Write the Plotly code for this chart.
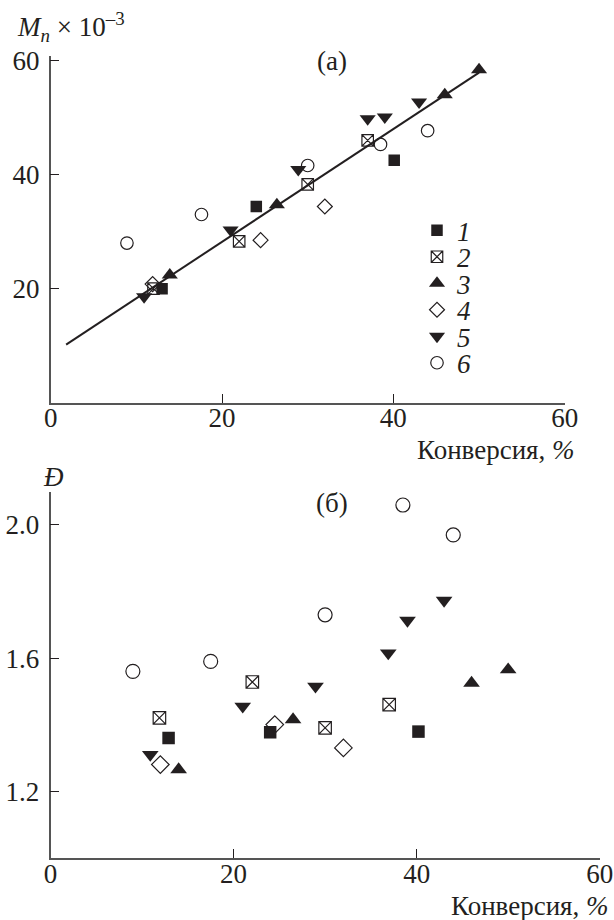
import plotly.graph_objects as go

# ---------------- data ----------------
series_names = ["1", "2", "3", "4", "5", "6"]

# panel (a): Mn x 10^-3 vs conversion
a_x1 = [13.0, 24.0, 40.1]
a_y1 = [20.0, 34.4, 42.5]
a_x2 = [12.0, 22.0, 30.0, 37.0]
a_y2 = [20.0, 28.3, 38.3, 46.0]
a_x3 = [13.9, 26.4, 46.0, 50.0]
a_y3 = [22.4, 34.7, 54.0, 58.4]
a_x4 = [11.9, 24.5, 32.0]
a_y4 = [20.8, 28.5, 34.4]
a_x5 = [10.9, 21.0, 28.9, 37.0, 39.0, 43.0]
a_y5 = [18.6, 30.3, 40.9, 49.8, 50.1, 52.75]
a_x6 = [8.9, 17.6, 30.0, 38.5, 44.0]
a_y6 = [28.0, 33.0, 41.6, 45.3, 47.7]
fit_x = [1.8, 50.0]
fit_y = [10.2, 57.9]

# panel (б): dispersity vs conversion
b_x1 = [12.9, 24.0, 40.2]
b_y1 = [1.36, 1.377, 1.379]
b_x2 = [11.9, 22.05, 30.0, 37.0]
b_y2 = [1.42, 1.528, 1.39, 1.46]
b_x3 = [14.0, 26.5, 46.0, 50.0]
b_y3 = [1.265, 1.415, 1.525, 1.565]
b_x4 = [12.0, 24.5, 32.0]
b_y4 = [1.28, 1.40, 1.33]
b_x5 = [10.9, 21.0, 28.95, 36.9, 39.0, 43.0]
b_y5 = [1.31, 1.455, 1.515, 1.615, 1.713, 1.773]
b_x6 = [9.0, 17.5, 30.0, 38.5, 44.0]
b_y6 = [1.56, 1.59, 1.73, 2.06, 1.97]

x_ticks = [0, 20, 40, 60]
a_y_ticks = [20, 40, 60]
b_y_ticks = [1.2, 1.6, 2.0]
b_y_ticklabels = ["1.2", "1.6", "2.0"]

# ---------------- styles ----------------
FONT = "Liberation Serif, Times New Roman, Times, serif"
FS = 27
INK = "#231f20"
AX = "#555555"
symbols = ["square", "square-x-open", "triangle-up", "diamond-open", "triangle-down", "circle-open"]
a_sizes = [11.5, 11.5, 14, 11.5, 14, 12.5]
b_sizes = [12.5, 12.5, 14.5, 13.5, 14.5, 14]

def mstyle(sym, size):
    d = dict(symbol=sym, size=size, color=INK)
    if sym.endswith("open"):
        d["line"] = dict(width=1.2, color=INK)
    return d

W, H = 614, 920
def px(x):
    return x / W
def py(y):
    return 1 - y / H

fig = go.Figure()

fig.add_trace(go.Scatter(x=fit_x, y=fit_y, mode="lines",
                         line=dict(color=INK, width=2), showlegend=False,
                         xaxis="x", yaxis="y", hoverinfo="skip"))

a_data = [(a_x1, a_y1), (a_x2, a_y2), (a_x3, a_y3), (a_x4, a_y4), (a_x5, a_y5), (a_x6, a_y6)]
b_data = [(b_x1, b_y1), (b_x2, b_y2), (b_x3, b_y3), (b_x4, b_y4), (b_x5, b_y5), (b_x6, b_y6)]

legend_ids = ["legend", "legend2", "legend3", "legend4", "legend5", "legend6"]
for name, (xs, ys), sym, sz, lg in zip(series_names, a_data, symbols, a_sizes, legend_ids):
    fig.add_trace(go.Scatter(x=xs, y=ys, mode="markers", name="<i>" + name + "</i>",
                             marker=mstyle(sym, sz), xaxis="x", yaxis="y",
                             showlegend=True, legend=lg))
for name, (xs, ys), sym, sz in zip(series_names, b_data, symbols, b_sizes):
    fig.add_trace(go.Scatter(x=xs, y=ys, mode="markers", name=name,
                             marker=mstyle(sym, sz), xaxis="x2", yaxis="y2", showlegend=False))

axis_common = dict(
    showline=True, linecolor=AX, linewidth=1.5, mirror=False,
    showgrid=False, zeroline=False, automargin=False,
    ticks="inside", ticklen=9, tickwidth=1.3, tickcolor=INK,
    tickfont=dict(family=FONT, size=FS, color=INK),
)

layout = dict(
    width=W, height=H,
    margin=dict(l=0, r=0, t=0, b=0, pad=0, autoexpand=False),
    paper_bgcolor="white", plot_bgcolor="white",
    font=dict(family=FONT, color=INK),
    xaxis=dict(domain=[px(50.7), px(564.7)], range=[0, 60], anchor="y",
               tickvals=x_ticks, ticklabelstandoff=-10, **axis_common),
    yaxis=dict(domain=[py(402.7), py(56)], range=[0, 60.8], anchor="x",
               tickvals=a_y_ticks, ticklabelstandoff=4, **axis_common),
    xaxis2=dict(domain=[px(50.5), px(599.7)], range=[0, 60], anchor="y2",
                tickvals=x_ticks, ticklabelstandoff=-9, **axis_common),
    yaxis2=dict(domain=[py(857.7), py(491.7)], range=[1.0, 2.1], anchor="x2",
                tickvals=b_y_ticks, ticktext=b_y_ticklabels, ticklabelstandoff=4, **axis_common),
    showlegend=True,
)
row_centers = [230.7, 257.2, 283.7, 310.2, 336.7, 363.2]
for lg, yc in zip(legend_ids, row_centers):
    layout[lg] = dict(x=px(417), y=py(yc), xanchor="left", yanchor="middle",
                      bgcolor="rgba(0,0,0,0)", borderwidth=0,
                      font=dict(family=FONT, size=FS, color=INK),
                      itemsizing="trace")
fig.update_layout(**layout)

ann_font = dict(family=FONT, size=FS, color=INK)
fig.add_annotation(text="<i>M</i><sub><i>n</i></sub> × 10<sup>–3</sup>", xref="paper", yref="paper",
                   x=px(15), y=py(27), xanchor="left", yanchor="middle", showarrow=False, font=ann_font)
fig.add_annotation(text="(a)", xref="paper", yref="paper", x=px(332), y=py(61),
                   xanchor="center", yanchor="middle", showarrow=False, font=ann_font)
fig.add_annotation(text="Конверсия, <i>%</i>", xref="paper", yref="paper", x=px(577), y=py(450),
                   xanchor="right", yanchor="middle", showarrow=False, font=ann_font)
fig.add_annotation(text="<i>Đ</i>", xref="paper", yref="paper", x=px(53), y=py(477),
                   xanchor="center", yanchor="middle", showarrow=False, font=ann_font)
fig.add_annotation(text="(б)", xref="paper", yref="paper", x=px(332), y=py(503),
                   xanchor="center", yanchor="middle", showarrow=False, font=ann_font)
fig.add_annotation(text="Конверсия, <i>%</i>", xref="paper", yref="paper", x=px(611), y=py(906),
                   xanchor="right", yanchor="middle", showarrow=False, font=ann_font)

fig.write_html("out.html", config={"displayModeBar": False},
               post_script="document.body.style.margin='0';document.body.style.overflow='hidden';")
